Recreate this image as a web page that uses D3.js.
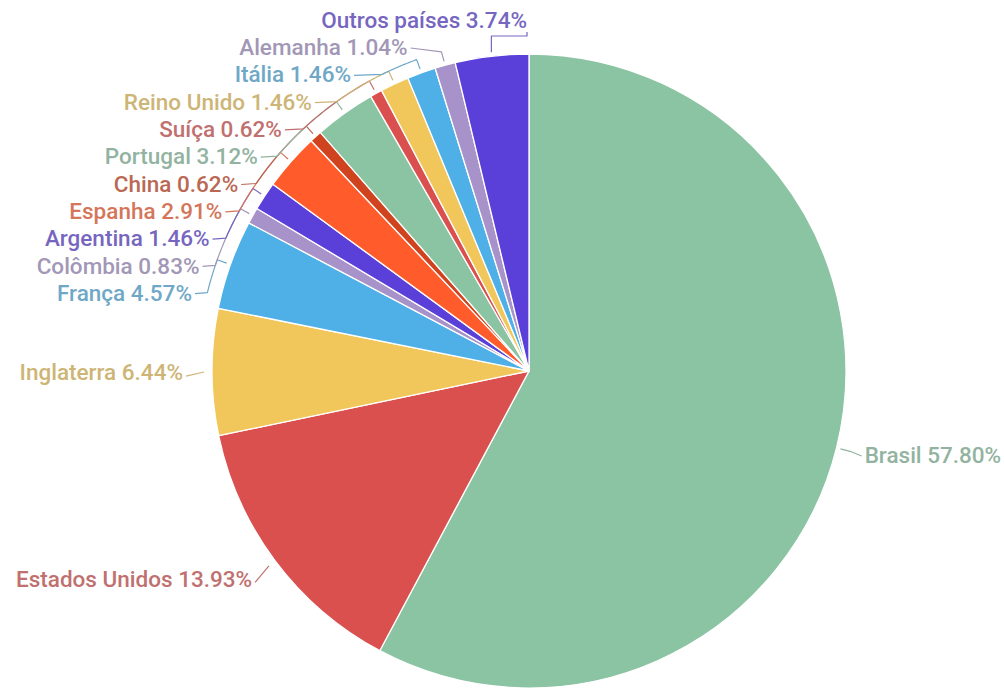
<!DOCTYPE html>
<html>
<head>
<meta charset="utf-8">
<script src="https://cdn.jsdelivr.net/npm/d3@7"></script>
<style>
  html, body { margin: 0; padding: 0; background: #ffffff; }
  svg { display: block; }
</style>
</head>
<body>
<svg id="chart" width="1004" height="689"></svg>
<script>
// Countries in drawing order (clockwise from 12 o'clock) and their shares in %
const countries = ["Brasil", "Estados Unidos", "Inglaterra", "França", "Colômbia", "Argentina",
  "Espanha", "China", "Portugal", "Suíça", "Reino Unido", "Itália", "Alemanha", "Outros países"];
const shares = [57.80, 13.93, 6.44, 4.57, 0.83, 1.46, 2.91, 0.62, 3.12, 0.62, 1.46, 1.46, 1.04, 3.74];

// Slice palette, cycled through the slices in order
const palette = ["#8bc4a2", "#d9504f", "#f1c75b", "#4eb0e6", "#a793c9", "#5b3fd9", "#ff5b2b", "#d0431f"];

const W = 1004, H = 689;
const cx = 529, cy = 371, r = 317;
const RL = 346;          // radius on which label ends sit
const rowGap = 27.3;     // minimum vertical spacing of stacked labels
const fmt = v => v.toFixed(2) + "%";

const svg = d3.select("#chart");
const g = svg.append("g").attr("transform", `translate(${cx},${cy})`);

const data = countries.map((name, i) => ({ name, value: shares[i], idx: i }));
const pie = d3.pie().value(d => d.value).sort(null);
const arcs = pie(data);
const arc = d3.arc().innerRadius(0).outerRadius(r);

const color = d3.scaleOrdinal().domain(d3.range(countries.length)).range(palette);
// Labels use a softened version of their slice colour
const labelColor = i => d3.interpolateRgb(color(i), "#9c9c9c")(0.42);

// Slices
g.selectAll("path.slice")
  .data(arcs)
  .join("path")
  .attr("class", "slice")
  .attr("d", arc)
  .attr("fill", d => color(d.data.idx))
  .attr("stroke", "#ffffff")
  .attr("stroke-width", 1.3)
  .attr("stroke-linejoin", "round");

// ---- label layout ----
const polar = (a, rad) => [Math.sin(a) * rad, -Math.cos(a) * rad];

const labels = arcs.map(d => {
  const mid = (d.startAngle + d.endAngle) / 2;
  const s = Math.sin(mid), c = Math.cos(mid);
  let kind;
  if (c > 0.98) kind = "top";
  else if (s > 0) kind = "right";
  else kind = "left";
  return { d, mid, kind, y: -c * RL, natY: -c * RL };
});

// Stack the left-side labels downwards so that they never overlap
const left = labels.filter(l => l.kind === "left").sort((a, b) => a.natY - b.natY);
let prev = 0;
left.forEach((l, k) => {
  const minY = k === 0 ? -r - 7 : prev + rowGap;
  l.y = Math.max(l.natY, minY);
  l.stacked = l.y > l.natY + 0.5 || k < left.length - 2;
  prev = l.y;
});

labels.forEach(l => {
  if (l.kind === "top") {
    l.y = -r - 34;
    l.x = -2;
  } else {
    const dx = Math.sqrt(Math.max(RL * RL - l.y * l.y, 0));
    l.x = l.kind === "left" ? -dx : dx;
  }
});

// Leader lines: radial tick, then along the ring towards the label, then into the label
const rTick0 = r + 4, rTick1 = r + 14;
const line = d3.line();

function leaderPoints(l) {
  const p0 = polar(l.mid, rTick0);
  const p1 = polar(l.mid, rTick1);
  if (l.kind === "top") {
    const yb = -r - 18;
    return [p0, [p0[0], yb], [l.x, yb], [l.x, yb - 4]];
  }
  const end = [l.x + (l.kind === "left" ? 3 : -3), l.y + 1];
  if (!l.stacked && l.kind === "left" && l.y > 0) {
    // lower labels: one straight stroke from the slice edge to the label
    return [polar(l.mid, r + 8), [l.x + 3, l.y + 4]];
  }
  const pts = [p0, p1];
  if (l.kind === "left" && l.y > p1[1] + 1 && Math.abs(l.y) < rTick1) {
    // follow the ring from the slice's mid angle to the label's height
    const aL = 2 * Math.PI - Math.acos(-l.y / rTick1);
    const steps = 24;
    for (let s = 1; s <= steps; s++) {
      const a = l.mid + (aL - l.mid) * s / steps;
      pts.push(polar(a, rTick1));
    }
  }
  pts.push(end);
  return pts;
}

g.selectAll("path.leader")
  .data(labels)
  .join("path")
  .attr("class", "leader")
  .attr("d", l => line(leaderPoints(l)))
  .attr("fill", "none")
  .attr("stroke", l => labelColor(l.d.data.idx))
  .attr("stroke-width", 1.2)
  .attr("stroke-linejoin", "round");

g.selectAll("text.label")
  .data(labels)
  .join("text")
  .attr("class", "label")
  .attr("x", l => l.x)
  .attr("y", l => l.y)
  .attr("dy", "0.36em")
  .attr("text-anchor", l => l.kind === "right" ? "start" : "end")
  .attr("fill", l => labelColor(l.d.data.idx))
  .style("font-family", "Roboto, 'Noto Sans', sans-serif")
  .style("font-size", "22.5px")
  .style("font-weight", 500)
  .text(l => `${l.d.data.name} ${fmt(l.d.data.value)}`);
</script>
</body>
</html>
